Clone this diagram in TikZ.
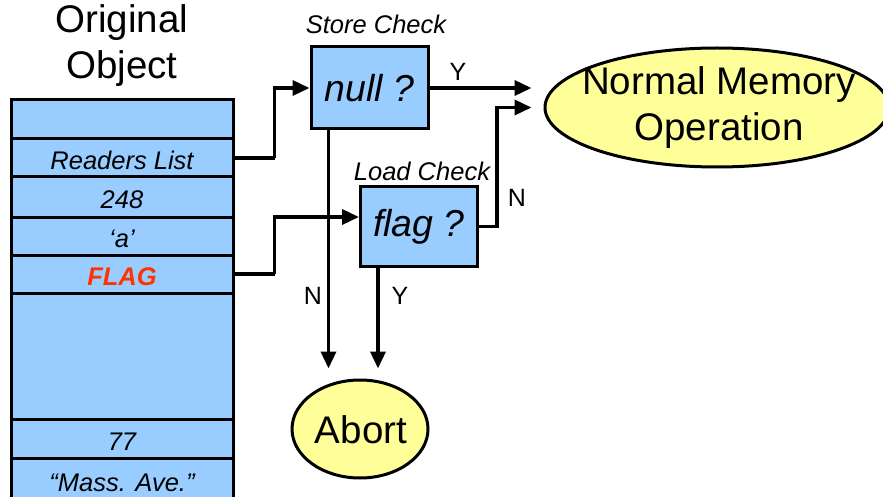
\documentclass[tikz,border=0pt]{standalone}
\usepackage{fontspec}
\setmainfont{Liberation Sans}
\usetikzlibrary{shapes.geometric,arrows.meta,calc}
\definecolor{cellblue}{HTML}{99CCFF}
\definecolor{ovalyellow}{HTML}{FFFF99}
\definecolor{flagred}{HTML}{FF3300}
\tikzset{
  cell/.style={draw=black, line width=3pt, fill=cellblue, minimum width=222pt,
    inner sep=0pt, text height=23pt, text depth=0pt,
    font=\fontsize{25.5}{28}\selectfont\itshape},
  testbox/.style={draw=black, line width=3pt, fill=cellblue, minimum width=117pt,
    inner sep=0pt, font=\fontsize{37.5}{40}\selectfont\itshape},
  oval/.style={ellipse, draw=black, line width=3pt, fill=ovalyellow, inner sep=0pt},
  bigtext/.style={font=\fontsize{38.5}{46}\selectfont, align=center},
  smalltext/.style={font=\fontsize{25}{28}\selectfont},
  arr/.style={line width=3.5pt, -{Triangle[length=17pt,width=15pt]}},
  wire/.style={line width=3.5pt}
}
\begin{document}
\begin{tikzpicture}[x=1pt,y=-1pt]
\useasboundingbox (0,0) rectangle (883,497);

% title of the memory column
\node[bigtext] (title) at (122,46) {Original\\Object};

% memory cells of the object
\node[cell, minimum height=39pt] (c1) at (122,119.5) {};
\node[cell, minimum height=38pt] (rl) at (122,158) {Readers List};
\node[cell, minimum height=40pt] (c3) at (122,197) {248};
\node[cell, minimum height=38pt] (c4) at (122,236) {‘a’};
\node[cell, minimum height=38pt, text=flagred, font=\fontsize{25.5}{28}\selectfont\bfseries\itshape] (fl) at (122,274) {FLAG};
\node[cell, minimum height=126pt] (c6) at (122,356) {};
\node[cell, minimum height=39pt] (c7) at (122,438.5) {77};
\node[cell, minimum height=44pt] (c8) at (122,480) {“Mass. Ave.”};

% the two checks
\node[testbox, minimum height=82pt] (null) at (369.5,88) {null ?};
\node[smalltext, font=\fontsize{25.5}{28}\selectfont\itshape, anchor=south] (sc) at (376,37) {Store Check};
\node[testbox, minimum height=79pt] (flag) at (419,226.5) {flag ?};
\node[smalltext, font=\fontsize{25.5}{28}\selectfont\itshape, anchor=south] (lc) at (422,184) {Load Check};

% outcomes
\node[oval, minimum width=344pt, minimum height=119pt] (nmo) at (717,107.5) {};
\node[bigtext] (nmotext) at (719,108) {Normal Memory\\Operation};
\node[oval, minimum width=136pt, minimum height=98pt] (abort) at (360,429) {};
\node[bigtext] (aborttext) at (361,430) {Abort};

% connector ends
\coordinate (nulldown) at ($(null.south west)+(19,0)$);
\coordinate (flagdown) at ($(flag.south west)+(19,0)$);
\coordinate (flagin) at ($(flag.west)+(0,-9.5)$);

% store check path
\draw[arr, shorten >=10pt] (nulldown) -- (nulldown |- abort.north);
\draw[arr, shorten >=12pt] (null.east) -- (null.east -| nmo.west);
\draw[wire] (rl.east) -- ++(40,0) coordinate (rlturn);
\draw[arr] (rlturn) |- (null.west);

% load check path
\draw[wire] (fl.east) -- ++(40,0) coordinate (flturn);
\draw[arr] (flturn) |- (flagin);
\draw[arr, shorten >=12pt] (flag.east) -- ++(18,0) |- (nmo.west);
\draw[arr, shorten >=10pt] (flagdown) -- (flagdown |- abort.north);

% branch labels
\node[smalltext] (ly1) at (458,72) {Y};
\node[smalltext] (ln1) at (517,198) {N};
\node[smalltext] (ln2) at (313,296) {N};
\node[smalltext] (ly2) at (400,296) {Y};
\end{tikzpicture}
\end{document}
